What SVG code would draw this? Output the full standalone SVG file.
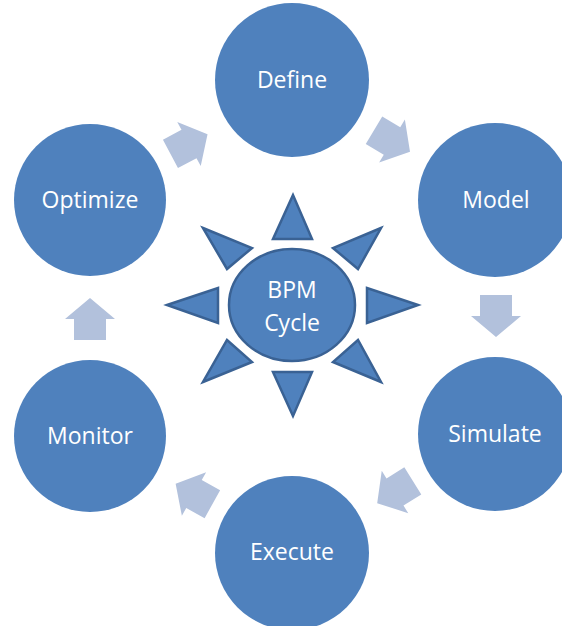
<svg xmlns="http://www.w3.org/2000/svg" width="562" height="626" viewBox="0 0 562 626">
  <style>
    .stage { fill: #4F81BD; }
    .label { fill: #FFFFFF; font-family: "Open Sans", "Liberation Sans", sans-serif; font-size: 23px; text-anchor: middle; }
    .ray { fill: #4F81BD; stroke: #3A6294; stroke-width: 2.5; stroke-linejoin: miter; }
    .flow { fill: #B2C1DC; }
  </style>
  <defs>
    <!-- block arrow pointing right, centred on the origin -->
    <polygon id="blockArrow" points="-21,-16 0,-16 0,-25 21,0 0,25 0,16 -21,16"/>
  </defs>
  <rect width="562" height="626" fill="#FFFFFF"/>

  <g id="connectors">
    <use href="#blockArrow" class="flow" transform="translate(392,141) rotate(31)"/>
    <use href="#blockArrow" class="flow" transform="translate(496,316) rotate(90)"/>
    <use href="#blockArrow" class="flow" transform="translate(395,492) rotate(148)"/>
    <use href="#blockArrow" class="flow" transform="translate(194,494) rotate(209)"/>
    <use href="#blockArrow" class="flow" transform="translate(90,319) rotate(-90)"/>
    <use href="#blockArrow" class="flow" transform="translate(189,144) rotate(-28)"/>
  </g>

  <g id="define">
    <circle class="stage" cx="292" cy="80" r="77"/>
    <text class="label" x="292" y="88">Define</text>
  </g>
  <g id="model">
    <circle class="stage" cx="495" cy="200" r="77"/>
    <text class="label" x="496" y="208">Model</text>
  </g>
  <g id="simulate">
    <circle class="stage" cx="495" cy="434" r="77"/>
    <text class="label" x="495" y="442">Simulate</text>
  </g>
  <g id="execute">
    <circle class="stage" cx="292" cy="553" r="77"/>
    <text class="label" x="292" y="560">Execute</text>
  </g>
  <g id="monitor">
    <circle class="stage" cx="90" cy="436" r="76"/>
    <text class="label" x="90" y="444">Monitor</text>
  </g>
  <g id="optimize">
    <circle class="stage" cx="90" cy="200" r="76"/>
    <text class="label" x="90" y="208">Optimize</text>
  </g>

  <g id="bpm-cycle">
    <polygon class="ray" points="293,195 273,239 312,239"/>
    <polygon class="ray" points="293,416 273,372 312,372"/>
    <polygon class="ray" points="167,305 218,288 218,323"/>
    <polygon class="ray" points="418,305 367,288 367,323"/>
    <polygon class="ray" points="203,228 252,248 227,269"/>
    <polygon class="ray" points="381,228 333,248 358,269"/>
    <polygon class="ray" points="203,382 252,362 227,340"/>
    <polygon class="ray" points="381,382 333,362 358,340"/>
    <ellipse class="ray" cx="292" cy="305" rx="63" ry="56"/>
    <text class="label" x="292" y="298">BPM</text>
    <text class="label" x="292" y="331">Cycle</text>
  </g>
</svg>
